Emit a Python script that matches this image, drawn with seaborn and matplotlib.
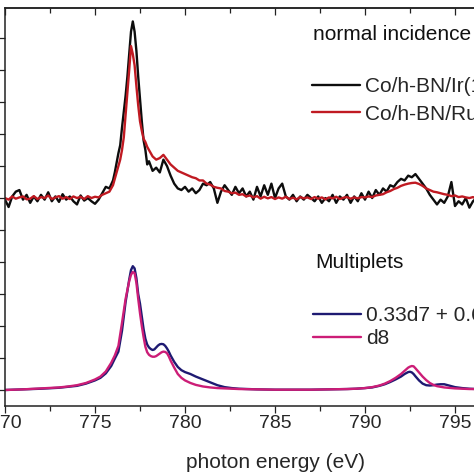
import numpy as np
import pandas as pd
import matplotlib
matplotlib.use("Agg")
import matplotlib.pyplot as plt
from matplotlib.ticker import MultipleLocator
from matplotlib.lines import Line2D
import seaborn as sns

sns.set_theme(style="ticks")
plt.rcParams['font.family'] = ['Liberation Sans', 'DejaVu Sans']

# ---------------- data ----------------
energy_exp = [
    770.0, 770.2, 770.4, 770.6, 770.8, 771.0, 771.2, 771.4, 771.6, 771.8,
    772.0, 772.2, 772.4, 772.6, 772.8, 773.0, 773.2, 773.4, 773.6, 773.8,
    774.0, 774.2, 774.4, 774.6, 774.8, 775.0, 775.2, 775.4, 775.6, 775.8,
    776.0, 776.1, 776.2, 776.3, 776.4, 776.5, 776.6, 776.7, 776.8, 776.9,
    777.0, 777.1, 777.2, 777.3, 777.4, 777.5, 777.6, 777.7, 777.8, 777.9,
    778.0, 778.2, 778.4, 778.6, 778.8, 779.0, 779.2, 779.4, 779.6, 779.8,
    780.0, 780.2, 780.4, 780.6, 780.8, 781.0, 781.2, 781.4, 781.6, 781.8,
    782.0, 782.2, 782.4, 782.6, 782.8, 783.0, 783.2, 783.4, 783.6, 783.8,
    784.0, 784.2, 784.4, 784.6, 784.8, 785.0, 785.2, 785.4, 785.6, 785.8,
    786.0, 786.2, 786.4, 786.6, 786.8, 787.0, 787.2, 787.4, 787.6, 787.8,
    788.0, 788.2, 788.4, 788.6, 788.8, 789.0, 789.2, 789.4, 789.6, 789.8,
    790.0, 790.2, 790.4, 790.6, 790.8, 791.0, 791.2, 791.4, 791.6, 791.8,
    792.0, 792.2, 792.4, 792.6, 792.8, 793.0, 793.2, 793.4, 793.6, 793.8,
    794.0, 794.2, 794.4, 794.6, 794.8, 795.0, 795.2, 795.4, 795.6, 795.8,
    796.0, 796.2, 796.4, 796.6,
]

ir_intensity = [
    5.95, 5.72, 6.05, 6.20, 6.25, 5.95, 6.10, 5.85, 6.05, 5.90,
    6.10, 5.95, 6.18, 5.90, 6.05, 5.88, 6.12, 5.95, 6.05, 5.90,
    5.80, 6.08, 5.92, 6.00, 5.90, 5.82, 5.95, 6.15, 6.35, 6.30,
    6.55, 6.80, 7.10, 7.40, 7.65, 8.20, 8.70, 9.20, 9.80, 10.50,
    11.20, 11.52, 11.20, 10.60, 9.80, 9.10, 8.40, 7.80, 7.50, 7.05,
    7.15, 6.85, 6.95, 6.80, 7.20, 7.00, 6.70, 6.45, 6.30, 6.25,
    6.35, 6.20, 6.30, 6.15, 6.25, 6.45, 6.40, 6.50, 6.30, 5.85,
    6.20, 6.40, 6.25, 6.10, 6.35, 6.15, 6.30, 6.05, 6.20, 5.95,
    6.35, 6.05, 6.40, 6.10, 6.45, 6.00, 6.30, 6.45, 6.05, 5.95,
    6.10, 5.90, 6.05, 5.95, 6.10, 6.00, 5.90, 6.05, 5.85, 6.00,
    5.90, 6.10, 5.85, 6.05, 5.95, 6.10, 5.85, 6.05, 5.90, 6.15,
    5.95, 6.20, 6.00, 6.25, 6.10, 6.30, 6.20, 6.40, 6.35, 6.50,
    6.60, 6.55, 6.70, 6.65, 6.75, 6.60, 6.45, 6.30, 6.10, 5.95,
    5.80, 5.95, 5.85, 6.05, 6.50, 5.75, 5.90, 5.80, 6.00, 5.70,
    5.90, 6.00, 5.85, 5.95,
]

ru_intensity = [
    6.00, 5.95, 6.05, 5.98, 6.02, 6.05, 5.96, 5.98, 6.06, 5.97,
    6.03, 6.00, 6.08, 5.97, 6.02, 6.06, 5.98, 6.03, 5.97, 6.05,
    6.00, 6.04, 5.97, 6.06, 6.00, 6.04, 6.02, 6.10, 6.15, 6.20,
    6.40, 6.60, 6.80, 7.00, 7.20, 7.50, 7.90, 8.60, 9.30, 10.00,
    10.75, 10.50, 10.15, 9.50, 8.90, 8.40, 8.10, 7.85, 7.75, 7.60,
    7.50, 7.30, 7.20, 7.25, 7.35, 7.20, 7.05, 6.95, 6.85, 6.80,
    6.75, 6.70, 6.65, 6.62, 6.55, 6.55, 6.45, 6.42, 6.35, 6.32,
    6.30, 6.22, 6.20, 6.15, 6.17, 6.10, 6.12, 6.05, 6.08, 6.02,
    6.06, 5.98, 6.04, 5.99, 6.03, 5.97, 6.02, 5.98, 6.04, 5.97,
    6.01, 5.96, 6.03, 5.99, 6.02, 5.97, 6.03, 5.98, 6.02, 5.96,
    6.02, 5.99, 6.04, 5.97, 6.01, 6.03, 5.98, 6.02, 5.99, 6.03,
    6.02, 6.05, 6.03, 6.08, 6.10, 6.12, 6.18, 6.22, 6.28, 6.32,
    6.38, 6.42, 6.45, 6.47, 6.48, 6.44, 6.38, 6.30, 6.25, 6.20,
    6.18, 6.15, 6.12, 6.10, 6.06, 6.08, 6.03, 6.05, 6.02, 6.00,
    6.03, 5.98, 6.00, 6.02,
]

energy_calc = [
    770.0, 771.0, 772.0, 773.0, 773.5, 774.0, 774.5, 775.0, 775.3, 775.6,
    775.9, 776.1, 776.3, 776.5, 776.7, 776.9, 777.0, 777.1, 777.2, 777.3,
    777.4, 777.5, 777.6, 777.7, 777.8, 777.9, 778.0, 778.1, 778.2, 778.3,
    778.4, 778.5, 778.6, 778.7, 778.8, 778.9, 779.0, 779.1, 779.2, 779.4,
    779.6, 779.8, 780.0, 780.3, 780.6, 781.0, 781.4, 781.8, 782.2, 782.6,
    783.0, 784.0, 785.0, 786.0, 787.0, 788.0, 789.0, 789.5, 790.0, 790.4,
    790.8, 791.1, 791.4, 791.7, 792.0, 792.2, 792.4, 792.5, 792.6, 792.7,
    792.8, 793.0, 793.2, 793.4, 793.6, 793.8, 794.0, 794.2, 794.4, 794.6,
    794.8, 795.0, 795.4, 795.8, 796.2, 796.6,
]

mix_intensity = [
    0.00, 0.02, 0.04, 0.07, 0.10, 0.13, 0.20, 0.30, 0.38, 0.52,
    0.75, 0.98, 1.20, 1.85, 2.75, 3.45, 3.75, 3.87, 3.80, 3.50,
    3.00, 2.70, 2.30, 1.90, 1.60, 1.42, 1.33, 1.28, 1.25, 1.27,
    1.33, 1.39, 1.43, 1.44, 1.43, 1.38, 1.30, 1.20, 1.08, 0.88,
    0.72, 0.62, 0.56, 0.50, 0.42, 0.33, 0.24, 0.15, 0.09, 0.06,
    0.04, 0.02, 0.01, 0.01, 0.01, 0.02, 0.03, 0.04, 0.06, 0.08,
    0.13, 0.18, 0.25, 0.33, 0.42, 0.50, 0.56, 0.57, 0.55, 0.50,
    0.43, 0.30, 0.20, 0.15, 0.14, 0.15, 0.17, 0.18, 0.18, 0.15,
    0.12, 0.09, 0.06, 0.04, 0.03, 0.02,
]

d8_intensity = [
    0.00, 0.02, 0.05, 0.08, 0.11, 0.15, 0.22, 0.33, 0.42, 0.58,
    0.85, 1.08, 1.38, 2.10, 2.85, 3.40, 3.60, 3.69, 3.65, 3.35,
    2.85, 2.40, 2.00, 1.65, 1.35, 1.18, 1.10, 1.06, 1.04, 1.04,
    1.06, 1.10, 1.14, 1.18, 1.20, 1.19, 1.15, 1.05, 0.92, 0.70,
    0.50, 0.38, 0.30, 0.22, 0.16, 0.11, 0.08, 0.06, 0.05, 0.04,
    0.03, 0.02, 0.01, 0.01, 0.01, 0.02, 0.03, 0.04, 0.06, 0.09,
    0.14, 0.20, 0.28, 0.38, 0.50, 0.60, 0.70, 0.73, 0.75, 0.74,
    0.68, 0.55, 0.42, 0.31, 0.22, 0.16, 0.12, 0.10, 0.08, 0.07,
    0.06, 0.05, 0.04, 0.03, 0.03, 0.02,
]

series_labels = ["Co/h-BN/Ir(111)", "Co/h-BN/Ru(0001)", "0.33d7 + 0.67d8", "d8"]
panel_titles = ["normal incidence", "Multiplets"]
x_label = "photon energy (eV)"
x_ticks = [770, 775, 780, 785, 790, 795, 800]

# ---------------- styling ----------------
colors = ["#0d0d0d", "#c01a22", "#1e1a72", "#cc1d77"]
W = H = 474
fig = plt.figure(figsize=(W / 100, H / 100), dpi=100)
ax = fig.add_axes([5 / W, (H - 406) / H, 540 / W, 398 / H])

exp_df = pd.DataFrame({"energy": energy_exp, "ir": ir_intensity, "ru": ru_intensity})
calc_df = pd.DataFrame({"energy": energy_calc, "mix": mix_intensity, "d8": d8_intensity})

lw = 1.7
sns.lineplot(data=exp_df, x="energy", y="ir", color=colors[0], lw=lw, ax=ax,
             estimator=None, sort=False)
sns.lineplot(data=exp_df, x="energy", y="ru", color=colors[1], lw=lw, ax=ax,
             estimator=None, sort=False)
sns.lineplot(data=calc_df, x="energy", y="mix", color=colors[2], lw=lw, ax=ax,
             estimator=None, sort=False)
sns.lineplot(data=calc_df, x="energy", y="d8", color=colors[3], lw=lw, ax=ax,
             estimator=None, sort=False)

ax.set_xlim(770, 800)
ax.set_ylim(-0.5, 11.94)
ax.set_xticks(x_ticks)
ax.xaxis.set_minor_locator(MultipleLocator(2.5))
ax.yaxis.set_major_locator(MultipleLocator(1))
ax.set_ylabel("")
ax.set_xlabel(x_label, fontsize=15, labelpad=15)

for s in ax.spines.values():
    s.set_linewidth(1.1)
    s.set_color("#222222")

ax.tick_params(axis="x", which="major", direction="out", length=5, width=0.9,
               labelsize=14, pad=1.5, color="#222222")
ax.tick_params(axis="x", which="minor", direction="out", length=3.6, width=0.9,
               color="#222222")
ax.tick_params(axis="y", which="major", direction="out", length=5, width=0.9,
               labelleft=False, color="#222222")

top = ax.secondary_xaxis("top")
top.set_xticks(x_ticks)
top.xaxis.set_minor_locator(MultipleLocator(2.5))
top.tick_params(axis="x", which="major", direction="in", length=5, width=0.9,
                labeltop=False, color="#222222")
top.tick_params(axis="x", which="minor", direction="in", length=3.6, width=0.9,
                color="#222222")
top.spines["top"].set_linewidth(1.1)

# panel headings
fig.text(313 / W, 1 - 35 / H, panel_titles[0], fontsize=15, va="center", ha="left",
         color="#111111")
fig.text(315 / W, 1 - 263 / H, panel_titles[1], fontsize=15, va="center", ha="left",
         color="#111111")

# legends
h1 = [Line2D([], [], color=colors[0], lw=lw), Line2D([], [], color=colors[1], lw=lw)]
leg1 = ax.legend(h1, series_labels[:2], loc="upper left",
                 bbox_to_anchor=(312 / W, 1 - 77 / H), bbox_transform=fig.transFigure,
                 frameon=False, fontsize=15, handlelength=2.3, handletextpad=0.25,
                 labelspacing=0.42, borderpad=0, borderaxespad=0)
ax.add_artist(leg1)
h2 = [Line2D([], [], color=colors[2], lw=lw), Line2D([], [], color=colors[3], lw=lw)]
leg2 = ax.legend(h2, series_labels[2:], loc="upper left",
                 bbox_to_anchor=(313 / W, 1 - 306 / H), bbox_transform=fig.transFigure,
                 frameon=False, fontsize=15, handlelength=2.3, handletextpad=0.25,
                 labelspacing=0.2, borderpad=0, borderaxespad=0)

fig.savefig("out.png", dpi=100)
